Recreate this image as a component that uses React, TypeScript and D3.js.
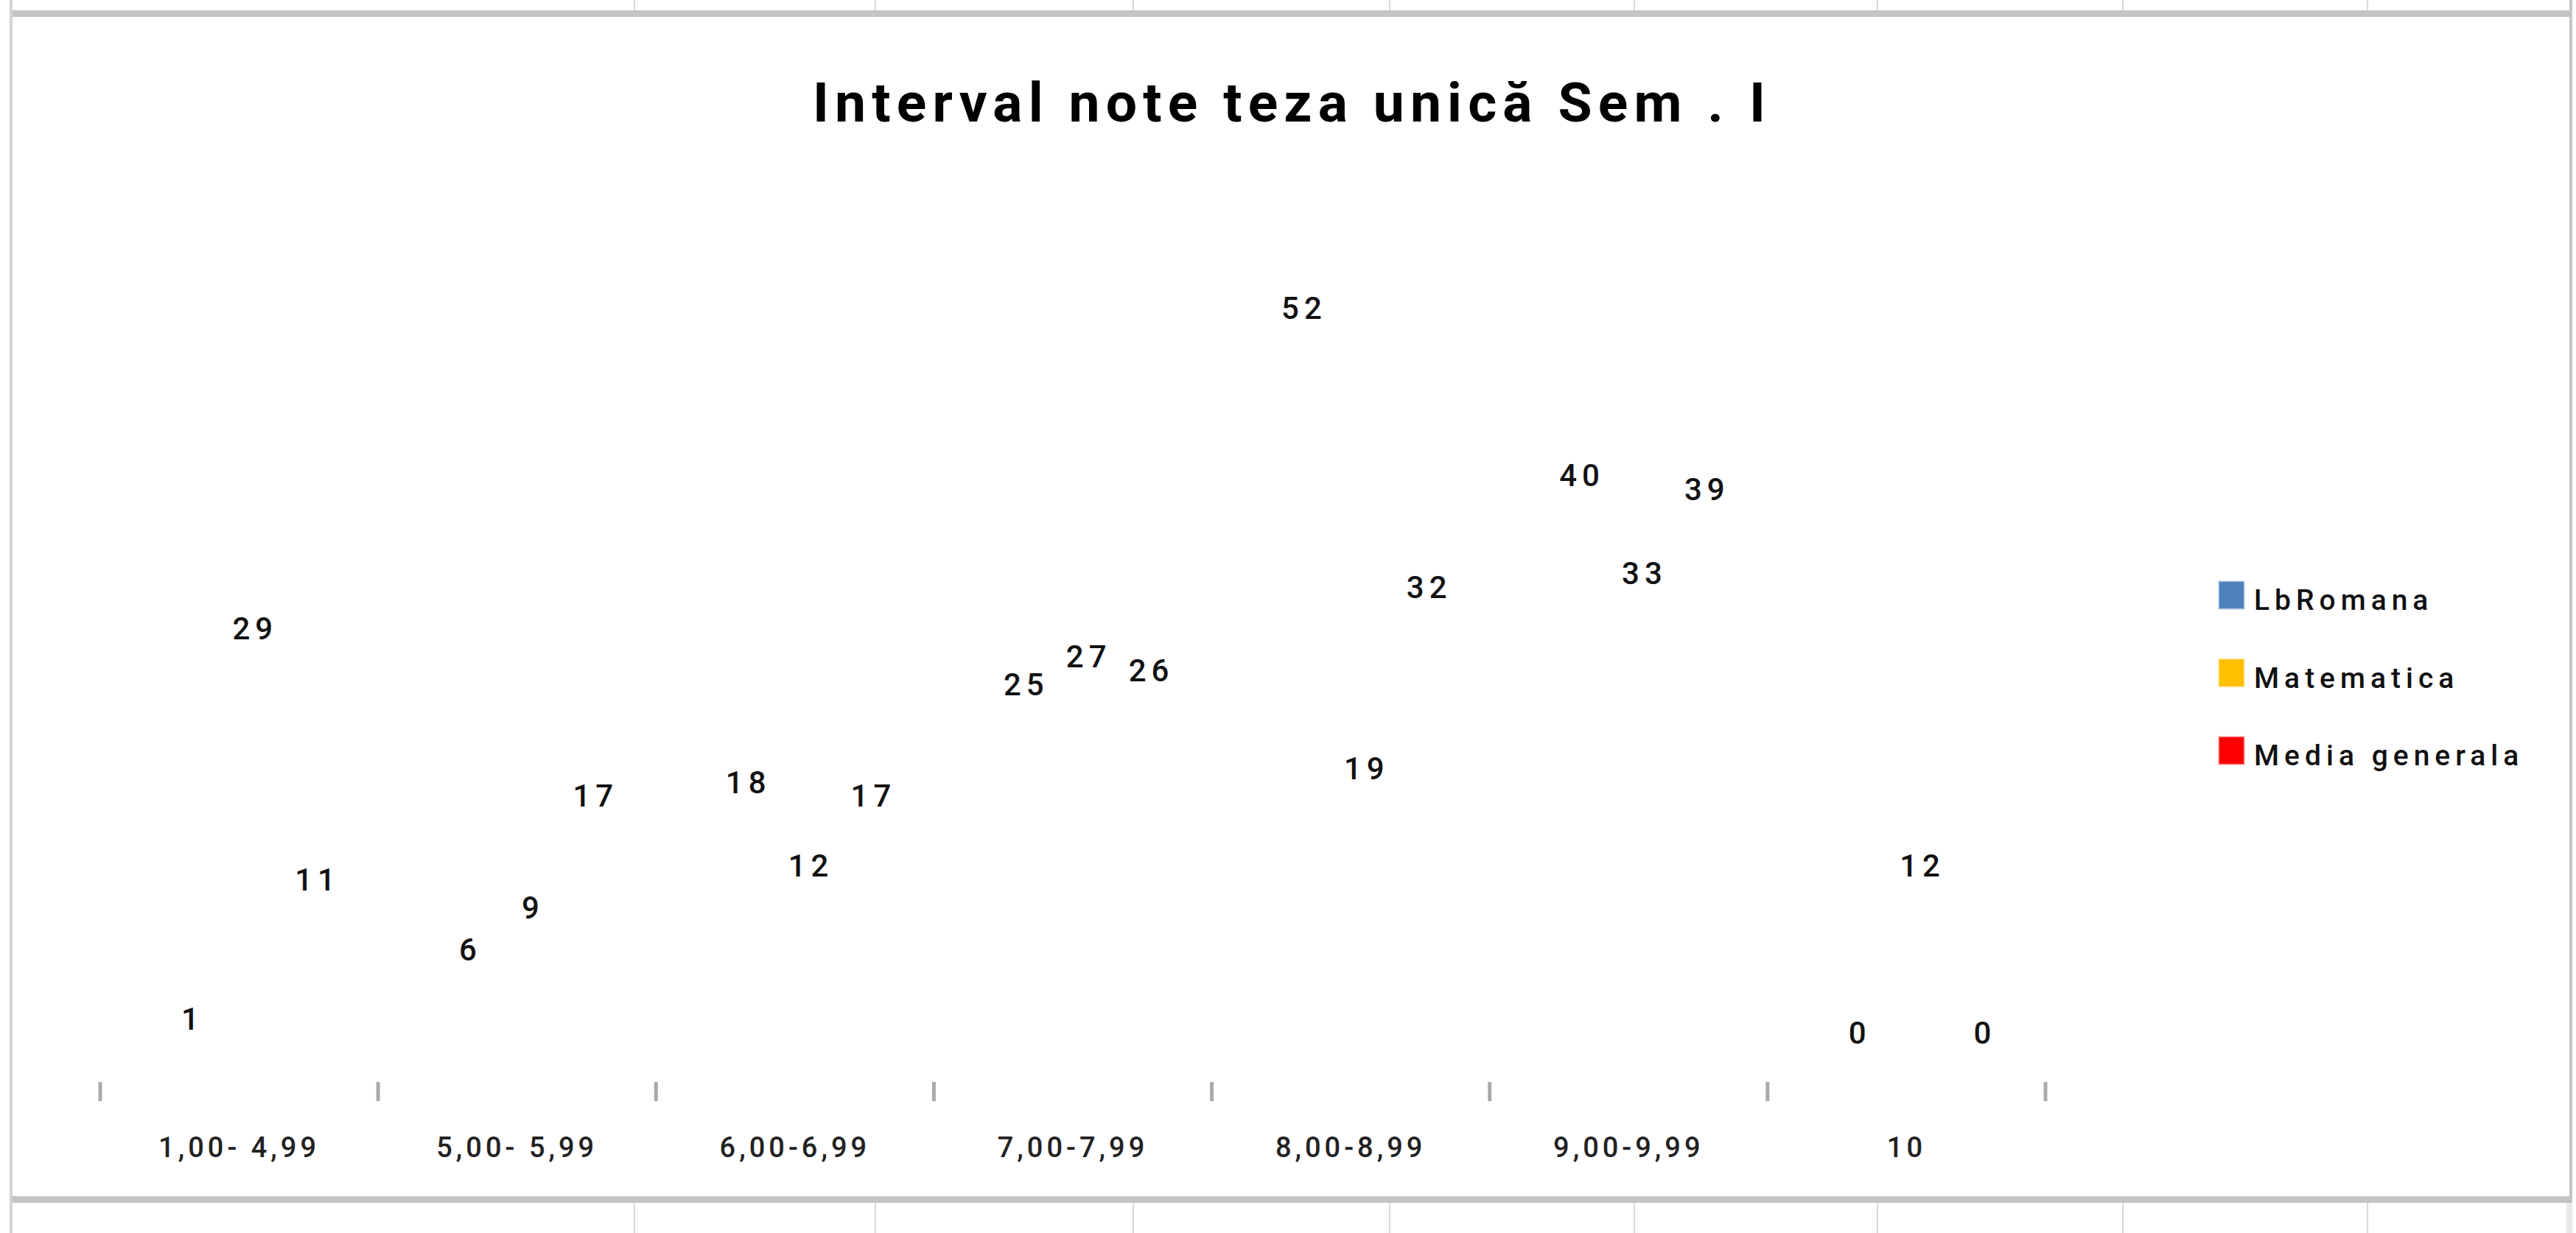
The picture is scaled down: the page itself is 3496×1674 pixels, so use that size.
import React, { useEffect } from "react";
import * as d3 from "d3";

const W = 3496;
const H = 1674;

const categories = ["1,00- 4,99", "5,00- 5,99", "6,00-6,99", "7,00-7,99", "8,00-8,99", "9,00-9,99", "10"];
const seriesNames = ["LbRomana", "Matematica", "Media generala"];
const seriesColors = ["#4F81BD", "#FFC000", "#FF0000"];

const lbRomana = [1, 6, 18, 25, 52, 40, 0];
const matematica = [29, 9, 12, 27, 19, 33, 12];
const mediaGenerala = [11, 17, 17, 26, 32, 39, 0];

const seriesValues = [lbRomana, matematica, mediaGenerala];

// spreadsheet column lines seen above / below the chart frame
const sheetColumns = [861, 1188, 1538, 1886, 2218, 2548, 2881, 3213];

const PLOT = { left: 136, right: 2776, base: 1469, top: 334 };
const FONT = "Roboto, 'Noto Sans', sans-serif";

export default function App() {
  useEffect(() => {
    document.body.style.margin = "0";
    document.body.style.overflow = "hidden";
  }, []);

  const x0 = d3.scaleBand().domain(categories).range([PLOT.left, PLOT.right]).padding(0);
  const step = x0.step();
  const x1 = d3
    .scaleBand()
    .domain(seriesNames)
    .range([step * 0.22, step * 0.895])
    .padding(0);
  const y = d3.scaleLinear().domain([0, 60]).range([PLOT.base, PLOT.top]);

  const tickXs = d3.range(categories.length + 1).map((i) => PLOT.left + i * step);

  return (
    <svg width={W} height={H} style={{ display: "block", background: "#fff" }} fontFamily={FONT}>
      {/* sheet grid + frame */}
      {sheetColumns.map((cx) => (
        <g key={cx}>
          <line x1={cx} x2={cx} y1={0} y2={16} stroke="#d9d9d9" strokeWidth={2} />
          <line x1={cx} x2={cx} y1={1632} y2={H} stroke="#d9d9d9" strokeWidth={2} />
        </g>
      ))}
      <rect x={13} y={0} width={4} height={H} fill="#d3d3d3" />
      <rect x={3487} y={0} width={4} height={1630} fill="#c4c4c4" />
      <rect x={3483} y={1633} width={8} height={H - 1633} fill="#e8e8e8" />
      <rect x={17} y={14} width={3474} height={9} fill="#c4c4c4" />
      <rect x={17} y={1624} width={3474} height={9} fill="#c4c4c4" />

      {/* title */}
      <text
        x={1103}
        y={165}
        fontSize={75}
        fontWeight={700}
        fill="#000"
        textLength={1293}
        lengthAdjust="spacing"
      >
        Interval note teza unică Sem . I
      </text>

      {/* data labels (bars have no fill in the source) */}
      {categories.map((c, ci) => (
        <g key={c}>
          {seriesNames.map((s, si) => {
            const v = seriesValues[si][ci];
            return (
              <text
                key={s}
                x={(x0(c) ?? 0) + (x1(s) ?? 0) + x1.bandwidth() / 2}
                y={y(v) - 52}
                textAnchor="middle"
                fontSize={42}
                fontWeight={500}
                letterSpacing={7}
                fill="#111"
              >
                {v}
              </text>
            );
          })}
        </g>
      ))}

      {/* x axis ticks */}
      {tickXs.map((tx) => (
        <line key={tx} x1={tx} x2={tx} y1={PLOT.base} y2={PLOT.base + 26} stroke="#aaaaaa" strokeWidth={5} />
      ))}
      {categories.map((c) => (
        <text
          key={c}
          x={(x0(c) ?? 0) + step / 2}
          y={1571}
          textAnchor="middle"
          fontSize={38}
          fontWeight={500}
          letterSpacing={5}
          fill="#222"
        >
          {c}
        </text>
      ))}

      {/* legend */}
      {seriesNames.map((s, i) => {
        const base = 828 + i * 105.5;
        return (
          <g key={s}>
            <rect
              x={3012}
              y={base - 38}
              width={33}
              height={36}
              fill={seriesColors[i]}
              stroke={seriesColors[i]}
              strokeOpacity={0.45}
              strokeWidth={3}
            />
            <text x={3059} y={base} fontSize={39} fontWeight={500} letterSpacing={7} fill="#111">
              {s}
            </text>
          </g>
        );
      })}
    </svg>
  );
}
